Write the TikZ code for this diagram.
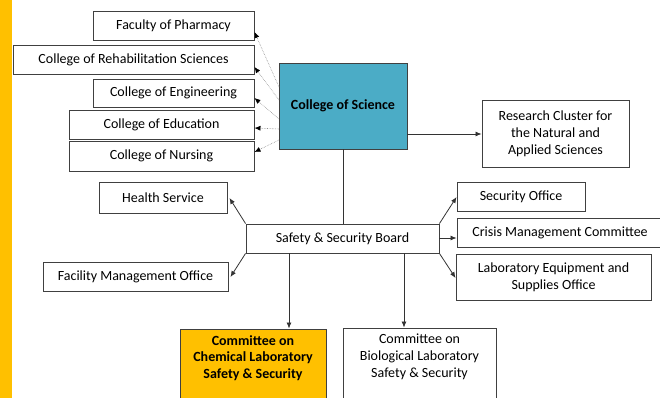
\documentclass[tikz,border=0pt]{standalone}
\usepackage{fontspec}
\setmainfont{Carlito}
\usetikzlibrary{arrows.meta}
\definecolor{sciblue}{HTML}{4BACC6}
\definecolor{amber}{HTML}{FFC000}
\definecolor{edge}{HTML}{404040}
\tikzset{
  box/.style={draw=edge, line width=0.9pt, fill=white, inner sep=0pt, align=center,
    font=\fontsize{14}{16.8}\selectfont},
  conn/.style={draw=black!80, line width=0.8pt, -{Latex[length=6pt,width=5pt]}},
  dotconn/.style={draw=black!45, line width=0.6pt, densely dotted, -{Latex[length=6pt,width=5pt,color=black]}},
  txt/.style={inner sep=0pt, align=center, font=\fontsize{14}{16.8}\selectfont},
}
\begin{document}
\begin{tikzpicture}[x=1pt,y=-1pt]
\useasboundingbox (0,0) rectangle (660,398);
\fill[amber] (0,0) rectangle (12,398);
% top-left column
\node[box, minimum width=161pt, minimum height=29pt] (pharm) at (173.5,25.5) {Faculty of Pharmacy};
\node[box, minimum width=241pt, minimum height=29pt] (rehab) at (133.5,59.5) {College of Rehabilitation Sciences};
\node[box, minimum width=161pt, minimum height=28pt] (eng) at (173.5,93) {College of Engineering};
\node[box, minimum width=185pt, minimum height=29pt] (edu) at (161.5,124.5) {College of Education};
\node[box, minimum width=185pt, minimum height=30pt] (nurs) at (161.5,156) {College of Nursing};
% college of science
\node[box, fill=sciblue, minimum width=128pt, minimum height=86pt, font=\fontsize{14}{16.8}\selectfont\bfseries] (cos) at (343,106) {College of Science};
\node[box, minimum width=147pt, minimum height=67pt] (rc) at (555.5,133.5) {Research Cluster for\\the Natural and\\Applied Sciences};
% board
\node[box, minimum width=193pt, minimum height=29pt] (board) at (342.5,238.5) {Safety \& Security Board};
\node[box, minimum width=128pt, minimum height=31pt] (health) at (163,197.5) {Health Service};
\node[box, minimum width=185pt, minimum height=29pt] (fmo) at (135.5,276.5) {Facility Management Office};
\node[box, minimum width=128pt, minimum height=29pt] (sec) at (521,196.5) {Security Office};
\node[box, minimum width=206pt, minimum height=29pt] (crisis) at (560,232.5) {Crisis Management Committee};
\node[box, minimum width=195pt, minimum height=46pt] (lab) at (553.5,277) {Laboratory Equipment and\\Supplies Office};
% committees
\node[box, fill=amber, minimum width=146pt, minimum height=80pt] (chem) at (253,369) {};
\node[txt, font=\fontsize{14}{16.8}\selectfont\bfseries, anchor=north] (chemt) at (253,335) {Committee on\\Chemical Laboratory\\Safety \& Security};
\node[box, minimum width=153pt, minimum height=80pt] (bio) at (419.5,368) {};
\node[txt, anchor=north] (biot) at (419.5,334) {Committee on\\Biological Laboratory\\Safety \& Security};
% connectors
\coordinate (c1) at (279,87);
\coordinate (c2) at (279,100);
\coordinate (c3) at (279,119);
\coordinate (c4) at (279,129);
\coordinate (c5) at (279,140);
\draw[dotconn] (c1) -- (pharm.east |- 0,32);
\draw[dotconn] (c2) -- (rehab.east |- 0,67);
\draw[dotconn] (c3) -- (eng.east |- 0,98);
\draw[dotconn] (c4) -- (edu.east |- 0,128);
\draw[dotconn] (c5) -- (nurs.east |- 0,152);
\draw[conn] (cos.east |- 0,134) -- (rc.west |- 0,134);
\draw[draw=black!80, line width=0.8pt] (cos.south) -- (board.north -| cos.south);
\draw[conn] (board.north west) -- ([xshift=2pt]health.east |- 0,198);
\draw[conn] (board.south west) -- ([xshift=2pt]fmo.east |- 0,277);
\draw[conn] (board.north east) -- (sec.west |- 0,197);
\draw[conn] (board.east |- 0,238) -- (crisis.west |- 0,238);
\draw[conn] (board.south east) -- (lab.west |- 0,278);
\draw[conn] (board.south -| 289,0) -- (chem.north -| 289,0);
\draw[conn] (board.south -| 404,0) -- (bio.north -| 404,0);
\end{tikzpicture}
\end{document}
